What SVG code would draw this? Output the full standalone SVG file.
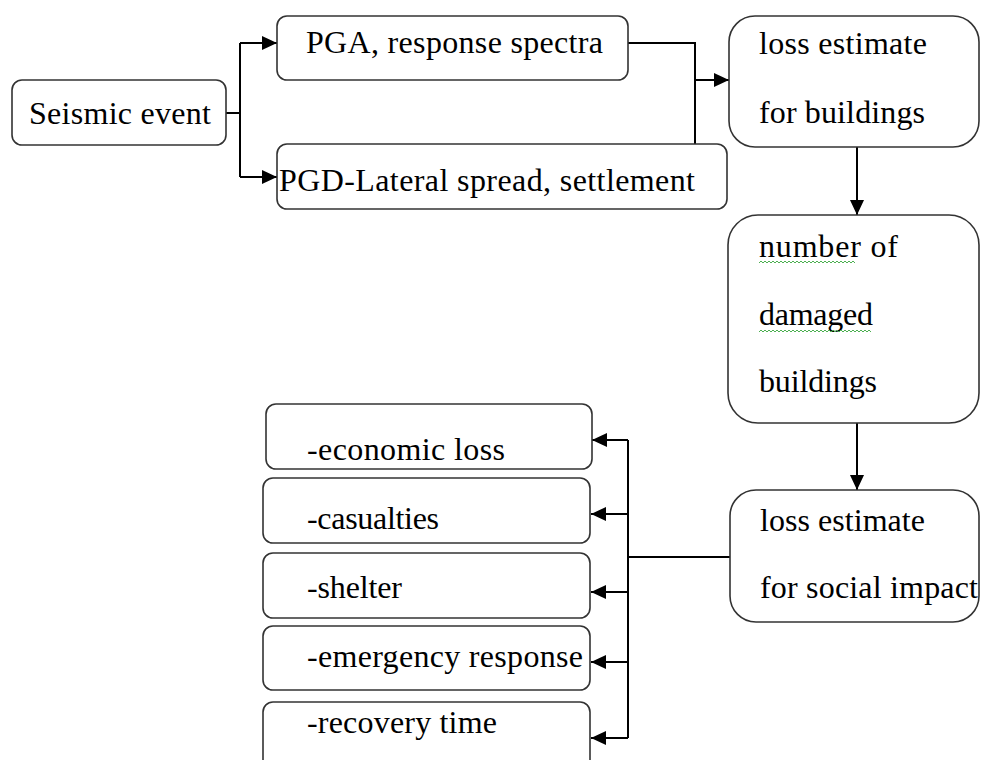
<svg xmlns="http://www.w3.org/2000/svg" width="981" height="760" viewBox="0 0 981 760" font-family="'Liberation Serif', Tinos, 'Noto Serif', 'DejaVu Serif', 'Times New Roman', Times, FreeSerif, serif" font-size="32">
<style>
.box{fill:#fff;stroke:#333;stroke-width:1.6}
.c{fill:none;stroke:#000;stroke-width:2}
.w{fill:none;stroke:#4caf50;stroke-width:1}
</style>
<defs>
<marker id="ah" markerUnits="userSpaceOnUse" markerWidth="16" markerHeight="14" refX="15" refY="7" orient="auto">
<path d="M0,0 L15,7 L0,14 z" fill="#000"/>
</marker>
</defs>
<rect width="981" height="760" fill="#fff"/>
<g id="connectors">
<path class="c" d="M226,113 H240 M240,43 V177"/>
<path class="c" d="M240,43 H277" marker-end="url(#ah)"/>
<path class="c" d="M240,177 H277" marker-end="url(#ah)"/>
<path class="c" d="M628,43 H695 V144"/>
<path class="c" d="M695,80 H729" marker-end="url(#ah)"/>
<path class="c" d="M857,147 V215" marker-end="url(#ah)"/>
<path class="c" d="M857,423 V490" marker-end="url(#ah)"/>
<path class="c" d="M730,557 H628 M628,440 V738"/>
<path class="c" d="M628,440 H592" marker-end="url(#ah)"/>
<path class="c" d="M628,514 H591" marker-end="url(#ah)"/>
<path class="c" d="M628,592 H591" marker-end="url(#ah)"/>
<path class="c" d="M628,662 H591" marker-end="url(#ah)"/>
<path class="c" d="M628,738 H591" marker-end="url(#ah)"/>
</g>
<g id="seismic">
<rect class="box" x="12" y="80" width="214" height="65" rx="10"/>
<text x="29" y="124" textLength="182">Seismic event</text>
</g>
<g id="pga">
<rect class="box" x="277" y="16" width="351" height="64" rx="10"/>
<text x="306" y="53" textLength="297">PGA, response spectra</text>
</g>
<g id="pgd">
<rect class="box" x="277" y="144" width="450" height="65" rx="10"/>
<text x="279" y="191" textLength="416">PGD-Lateral spread, settlement</text>
</g>
<g id="loss-buildings">
<rect class="box" x="729" y="16" width="250" height="131" rx="26"/>
<text x="759" y="54" textLength="168">loss estimate</text>
<text x="759" y="123" textLength="166">for buildings</text>
</g>
<g id="damaged">
<rect class="box" x="728" y="215" width="251" height="208" rx="30"/>
<text x="759" y="257" textLength="139">number  of</text>
<text x="759" y="325" textLength="114">damaged</text>
<text x="759" y="392" textLength="118">buildings</text>
<path class="w" d="M759,263 l2,-2 l2,2 l2,-2 l2,2 l2,-2 l2,2 l2,-2 l2,2 l2,-2 l2,2 l2,-2 l2,2 l2,-2 l2,2 l2,-2 l2,2 l2,-2 l2,2 l2,-2 l2,2 l2,-2 l2,2 l2,-2 l2,2 l2,-2 l2,2 l2,-2 l2,2 l2,-2 l2,2 l2,-2 l2,2 l2,-2 l2,2 l2,-2 l2,2 l2,-2 l2,2 l2,-2 l2,2 l2,-2 l2,2 l2,-2 l2,2 l2,-2 l2,2 l2,-2 l2,2"/>
<path class="w" d="M759,332 l2,-2 l2,2 l2,-2 l2,2 l2,-2 l2,2 l2,-2 l2,2 l2,-2 l2,2 l2,-2 l2,2 l2,-2 l2,2 l2,-2 l2,2 l2,-2 l2,2 l2,-2 l2,2 l2,-2 l2,2 l2,-2 l2,2 l2,-2 l2,2 l2,-2 l2,2 l2,-2 l2,2 l2,-2 l2,2 l2,-2 l2,2 l2,-2 l2,2 l2,-2 l2,2 l2,-2 l2,2 l2,-2 l2,2 l2,-2 l2,2 l2,-2 l2,2 l2,-2 l2,2 l2,-2 l2,2 l2,-2 l2,2 l2,-2 l2,2 l2,-2 l2,2"/>
</g>
<g id="loss-social">
<rect class="box" x="730" y="490" width="249" height="132" rx="26"/>
<text x="760" y="531" textLength="165">loss estimate</text>
<text x="760" y="598" textLength="218">for social impact</text>
</g>
<g id="economic">
<rect class="box" x="266" y="404" width="326" height="65" rx="10"/>
<text x="307" y="460" textLength="198">-economic  loss</text>
</g>
<g id="casualties">
<rect class="box" x="263" y="478" width="327" height="65" rx="10"/>
<text x="307" y="529" textLength="132">-casualties</text>
</g>
<g id="shelter">
<rect class="box" x="263" y="553" width="327" height="65" rx="10"/>
<text x="307" y="598" textLength="95">-shelter</text>
</g>
<g id="emergency">
<rect class="box" x="263" y="626" width="327" height="64" rx="10"/>
<text x="307" y="667" textLength="276">-emergency  response</text>
</g>
<g id="recovery">
<rect class="box" x="263" y="702" width="327" height="80" rx="10"/>
<text x="307" y="733" textLength="190">-recovery  time</text>
</g>
</svg>
